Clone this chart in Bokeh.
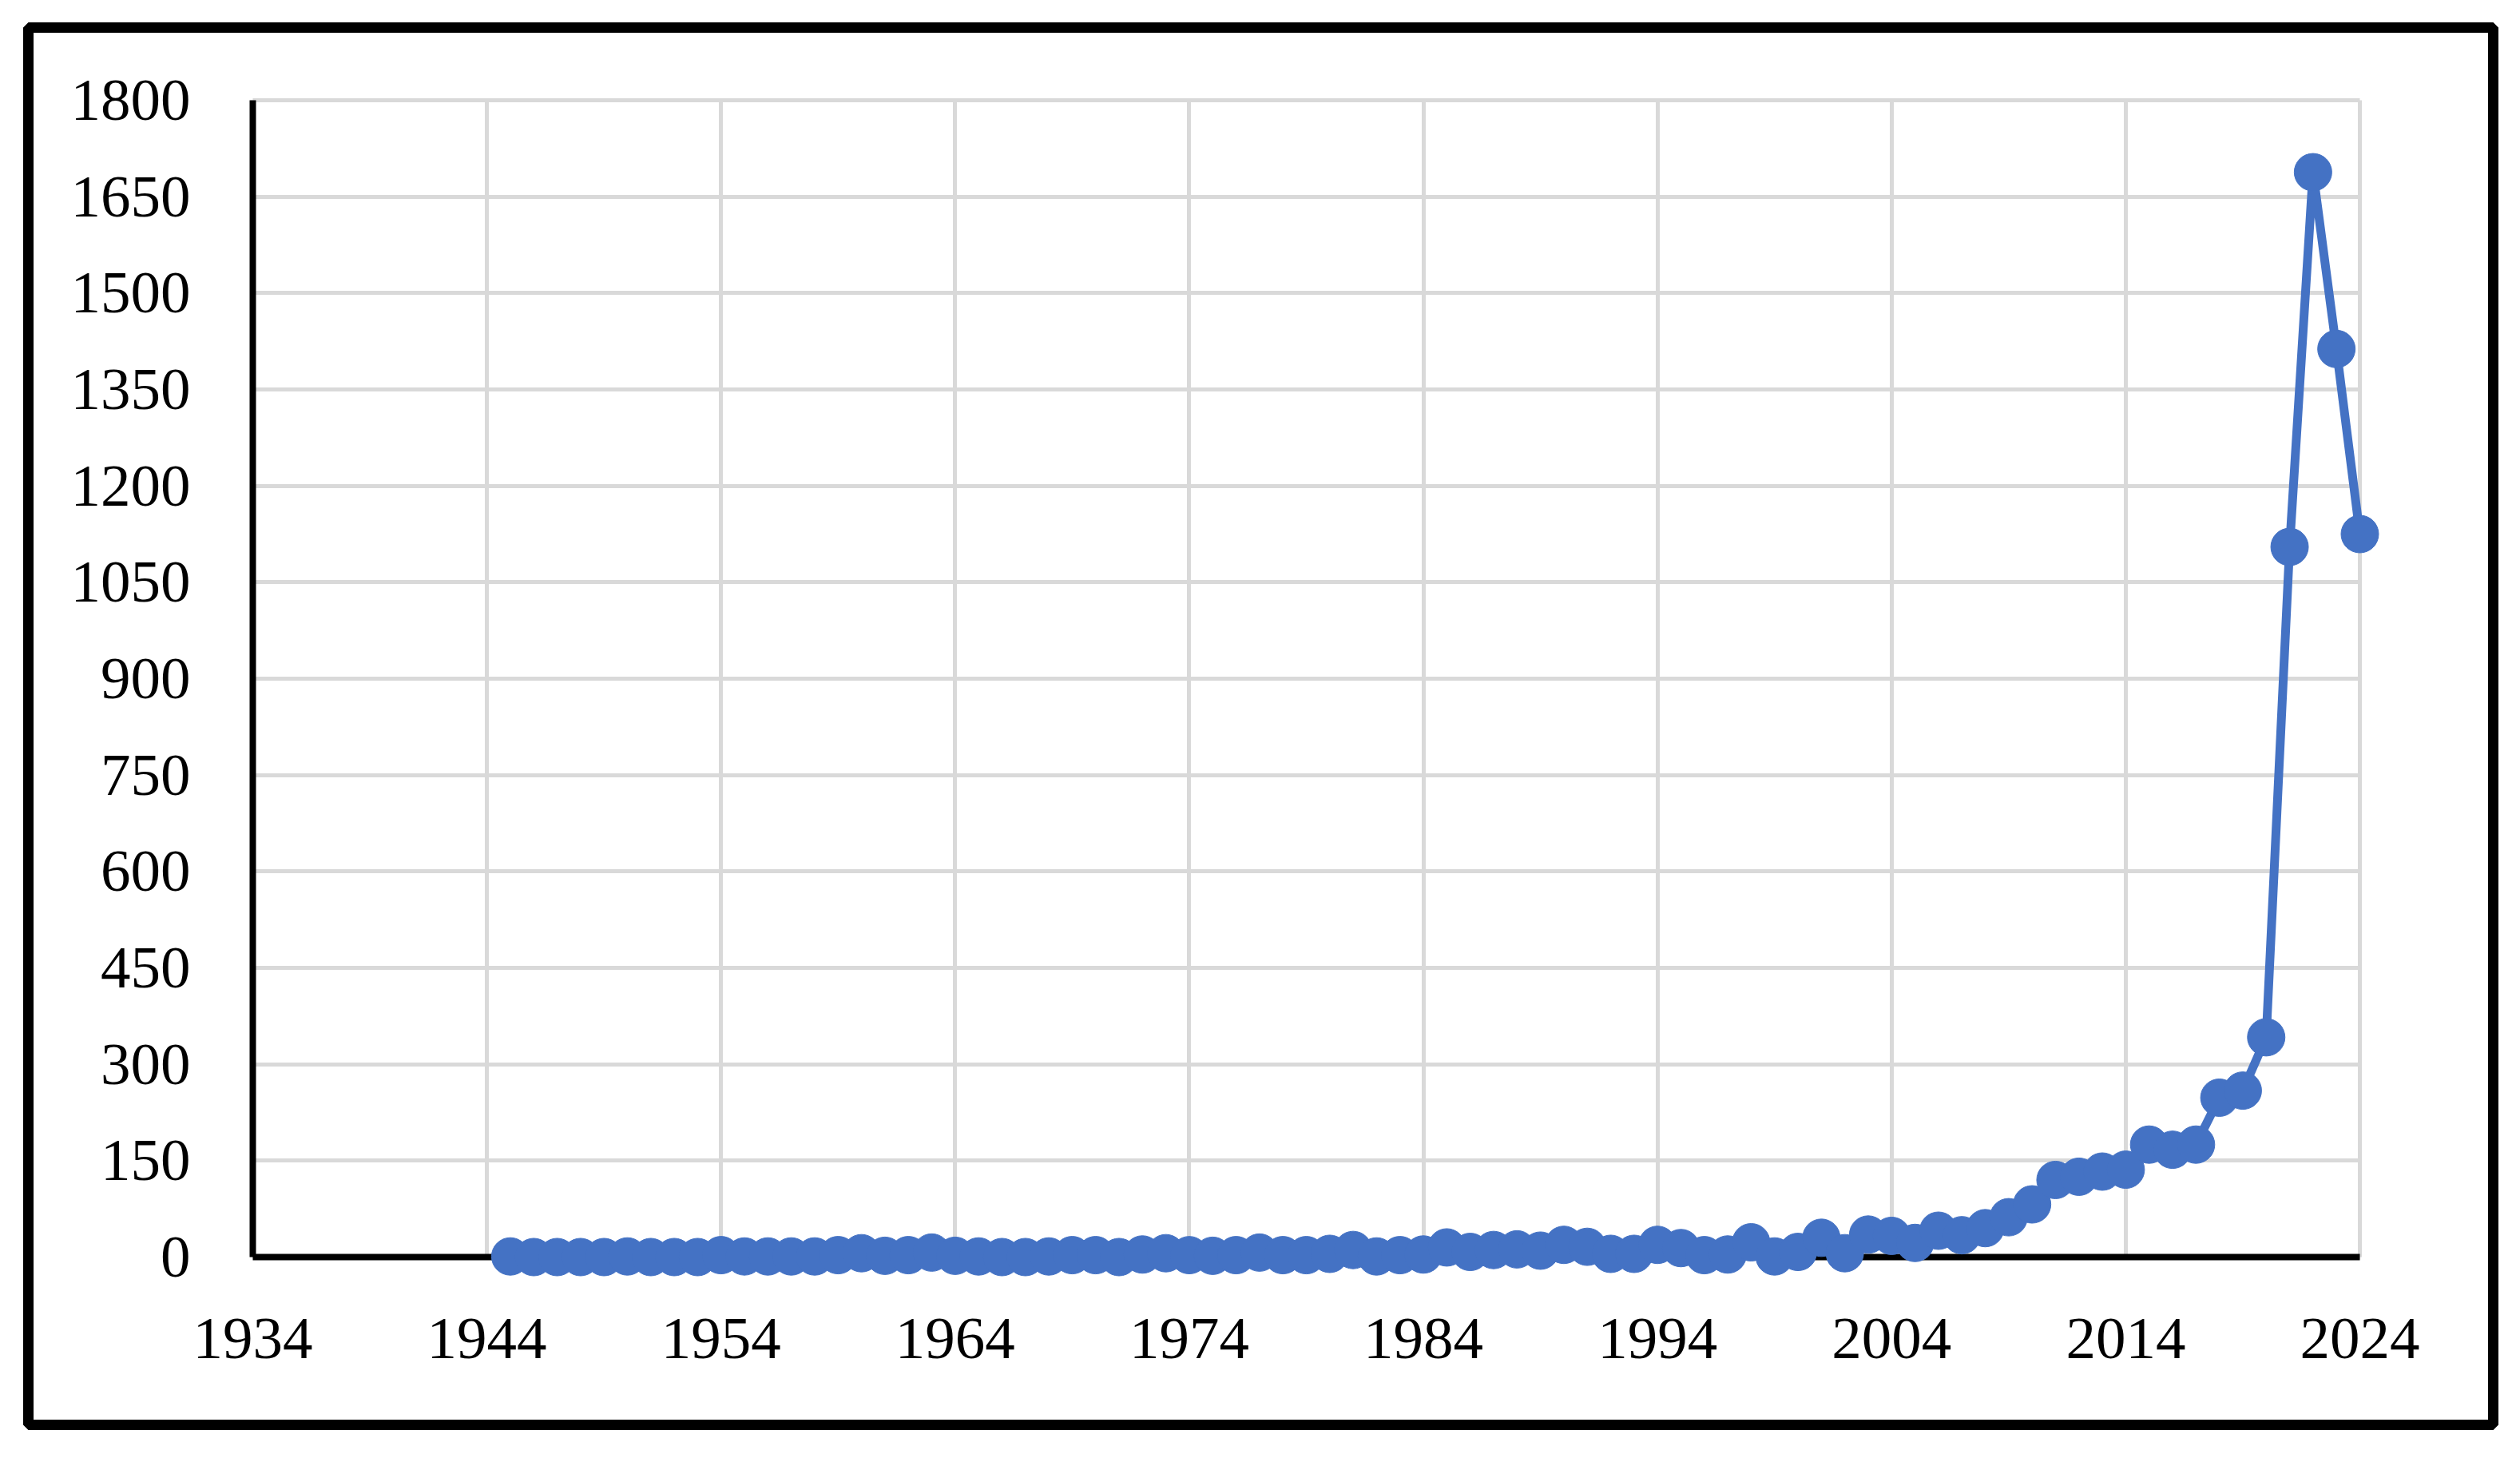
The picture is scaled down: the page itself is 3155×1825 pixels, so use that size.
from bokeh.plotting import figure
from bokeh.models import Range1d, FixedTicker, ColumnDataSource
from bokeh.embed import file_html
from bokeh.resources import INLINE

years = list(range(1945, 2025))
counts = [
    1, 0, 0, 0, 0, 1, 0, 0, 0, 3,          # 1945-1954
    1, 1, 1, 1, 3, 6, 2, 3, 7, 2,          # 1955-1964
    1, 0, 0, 1, 3, 3, 0, 4, 6, 3,          # 1965-1974
    2, 3, 7, 3, 3, 5, 11, 1, 3, 4,         # 1975-1984
    15, 8, 11, 12, 10, 19, 16, 5, 5, 19,   # 1985-1994
    14, 3, 4, 23, 1, 8, 30, 6, 35, 33,     # 1995-2004
    22, 41, 34, 45, 62, 82, 120, 125, 133, 136,  # 2005-2014
    175, 167, 175, 248, 259, 342, 1105, 1688, 1413, 1125,  # 2015-2024
]
x_ticks = [1934, 1944, 1954, 1964, 1974, 1984, 1994, 2004, 2014, 2024]
y_ticks = [0, 150, 300, 450, 600, 750, 900, 1050, 1200, 1350, 1500, 1650, 1800]

W, H = 3135, 1805
FONT = "Liberation Serif"
BLUE = "#4472C4"
GRID = "#d9d9d9"

p = figure(width=W, height=H, output_backend="svg", toolbar_location=None,
           x_range=Range1d(1924.413, 2029.698), y_range=Range1d(-261.05, 1913.1))
try:
    p.title.visible = False
except Exception:
    pass
p.min_border = 0
p.min_border_left = 35
p.min_border_top = 34
p.min_border_right = 14
p.min_border_bottom = 22
p.outline_line_color = "black"
p.outline_line_width = 13
p.background_fill_color = "white"
p.border_fill_color = "white"

p.xaxis.ticker = FixedTicker(ticks=x_ticks)
p.yaxis.ticker = FixedTicker(ticks=y_ticks)
p.xaxis.fixed_location = 0
p.yaxis.fixed_location = 1934
p.xaxis.bounds = (1934, 2024)
p.yaxis.bounds = (0, 1800)
for ax in (p.xaxis, p.yaxis):
    ax.axis_line_color = "black"
    ax.axis_line_width = 8
    ax.major_tick_line_color = None
    ax.minor_tick_line_color = None
    ax.major_tick_in = 0
    ax.major_tick_out = 0
    ax.minor_tick_in = 0
    ax.minor_tick_out = 0
    ax.major_label_text_font = FONT
    ax.major_label_text_font_size = "75px"
    ax.major_label_text_color = "black"
p.xaxis.major_label_standoff = 78
p.yaxis.major_label_standoff = 78

grid_ok = True
try:
    p.xgrid.ticker = FixedTicker(ticks=x_ticks)
    p.ygrid.ticker = FixedTicker(ticks=y_ticks)
    p.xgrid.bounds = (1934, 2024)
    p.ygrid.bounds = (0, 1800)
    p.xgrid.cross_bounds = (0, 1800)
    p.ygrid.cross_bounds = (1934, 2024)
    for g in (p.xgrid, p.ygrid):
        g.grid_line_color = GRID
        g.grid_line_width = 5
except Exception:
    grid_ok = False

if not grid_ok:
    p.xgrid.visible = False
    p.ygrid.visible = False
    p.segment(x0=x_ticks, x1=x_ticks, y0=[0] * len(x_ticks), y1=[1800] * len(x_ticks),
              line_color=GRID, line_width=5, level="underlay")
    p.segment(x0=[1934] * len(y_ticks), x1=[2024] * len(y_ticks), y0=y_ticks, y1=y_ticks,
              line_color=GRID, line_width=5, level="underlay")

src = ColumnDataSource(data=dict(year=years, count=counts))
p.line("year", "count", source=src, line_color=BLUE, line_width=11, level="overlay")
p.scatter("year", "count", source=src, size=47, fill_color=BLUE, line_color=BLUE,
          level="overlay")

open("out.html", "w").write(file_html(p, INLINE))
